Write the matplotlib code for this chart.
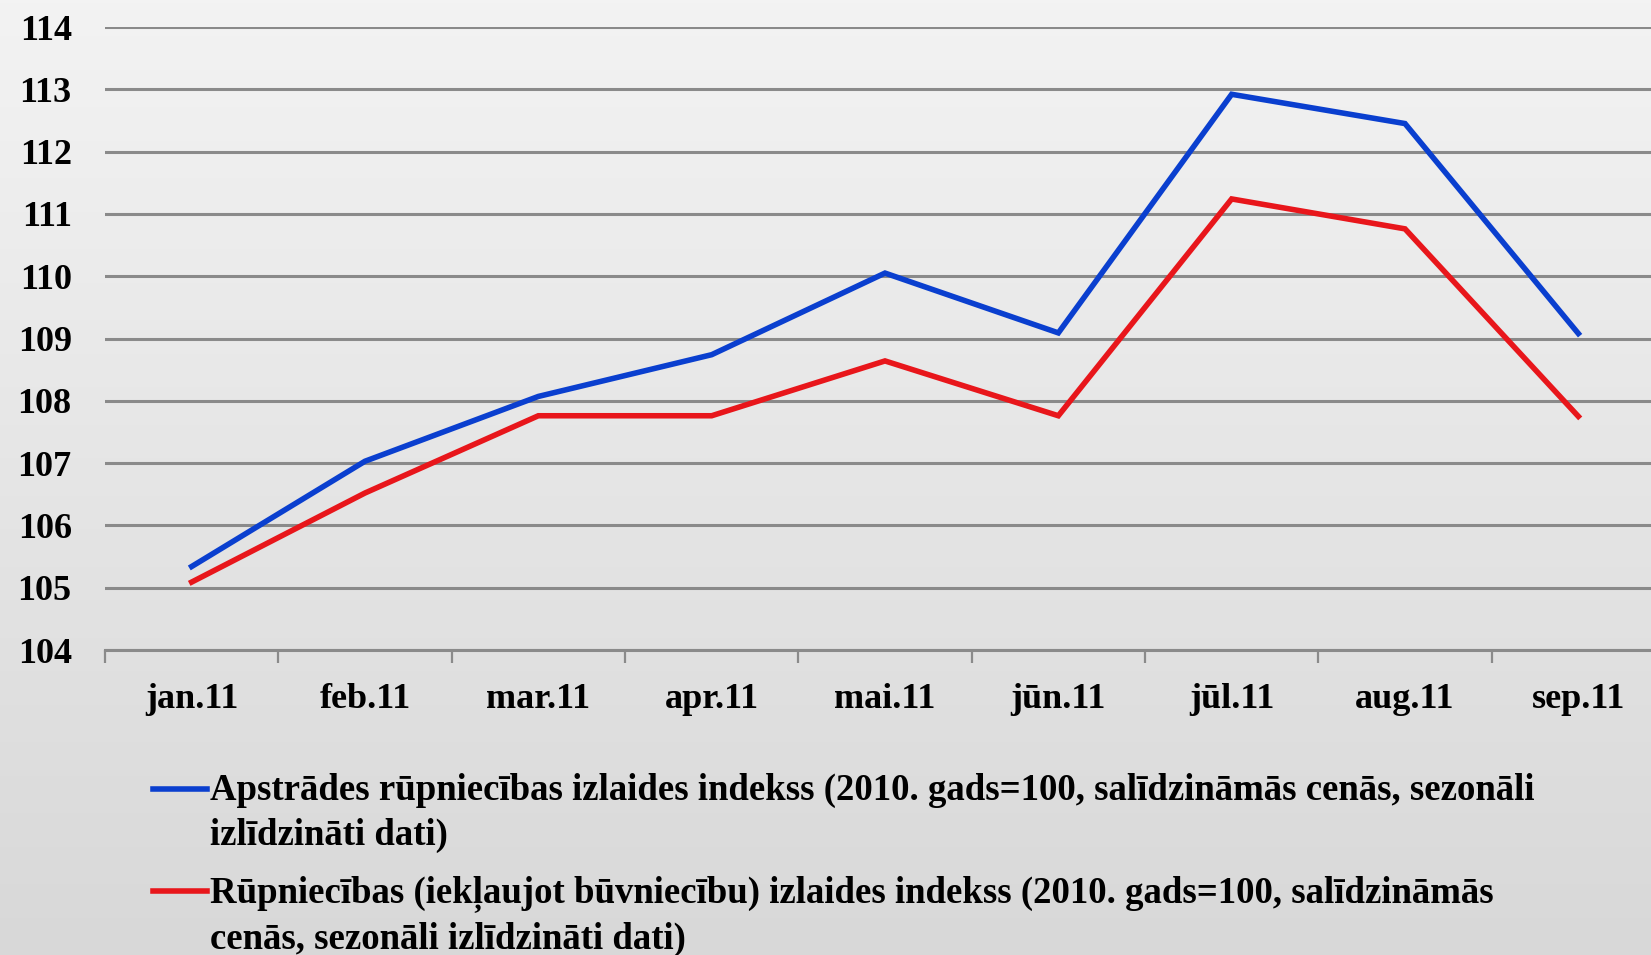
import numpy as np
import matplotlib.pyplot as plt
from matplotlib.lines import Line2D

plt.rcParams['font.family'] = 'Liberation Serif'
plt.rcParams['font.weight'] = 'bold'

# data
months = ["jan.11", "feb.11", "mar.11", "apr.11", "mai.11",
          "jūn.11", "jūl.11", "aug.11", "sep.11"]
manufacturing = [105.34, 107.03, 108.07, 108.74, 110.05, 109.09, 112.92, 112.45, 109.08]
industry = [105.09, 106.52, 107.76, 107.76, 108.64, 107.76, 111.24, 110.76, 107.75]
label_manuf = ("Apstrādes rūpniecības izlaides indekss (2010. gads=100, salīdzināmās cenās, sezonāli\n"
               "izlīdzināti dati)")
label_ind = ("Rūpniecības (iekļaujot būvniecību) izlaides indekss (2010. gads=100, salīdzināmās\n"
             "cenās, sezonāli izlīdzināti dati)")

blue = '#0a3fcf'
red = '#e8161b'
grid_col = '#8a8a8a'

fig = plt.figure(figsize=(16.51, 9.55), dpi=100)

# gradient background
bg = fig.add_axes([0, 0, 1, 1], zorder=-10)
grad = np.linspace(0, 1, 256).reshape(-1, 1)
bg.imshow(grad, aspect='auto', cmap=plt.cm.colors.LinearSegmentedColormap.from_list(
    'bg', ['#f3f3f3', '#d8d8d8']), extent=[0, 1, 0, 1], origin='upper')
bg.axis('off')

ax = fig.add_axes([105 / 1651, 305 / 955, 1560 / 1651, 623 / 955])
ax.patch.set_alpha(0)

x = np.arange(len(months))
ax.plot(x, manufacturing, color=blue, lw=4.0, solid_joinstyle='miter', zorder=3)
ax.plot(x, industry, color=red, lw=4.0, solid_joinstyle='miter', zorder=3)

ax.set_xlim(-0.5, len(months) - 0.5)
ax.set_ylim(104, 114)
ax.set_yticks(np.arange(104, 115, 1))
ax.set_yticklabels([str(v) for v in range(104, 115)], fontsize=26)
ax.yaxis.grid(True, color=grid_col, lw=2.2)
ax.set_axisbelow(True)

ax.set_xticks(x)
ax.set_xticklabels(months, fontsize=26)
ax.set_xticks(np.arange(-0.5, len(months), 1), minor=True)
ax.tick_params(axis='x', which='major', length=0, pad=24)
ax.tick_params(axis='x', which='minor', length=9, width=1.6, color=grid_col, direction='out')
ax.tick_params(axis='y', length=0, pad=24)

for s in ['top', 'right', 'left']:
    ax.spines[s].set_visible(False)
ax.spines['bottom'].set_color(grid_col)
ax.spines['bottom'].set_linewidth(2.2)

# legend drawn below the plot
for ypix, col, lab in [(789, blue, label_manuf), (891, red, label_ind)]:
    yf = 1 - ypix / 955
    fig.add_artist(Line2D([153 / 1651, 207 / 1651], [yf, yf], color=col, lw=4.0,
                          transform=fig.transFigure))
    fig.text(210 / 1651, yf + 0.017, lab, fontsize=26.5, va='top', ha='left',
             linespacing=1.36)

plt.savefig("out.png", dpi=100)
